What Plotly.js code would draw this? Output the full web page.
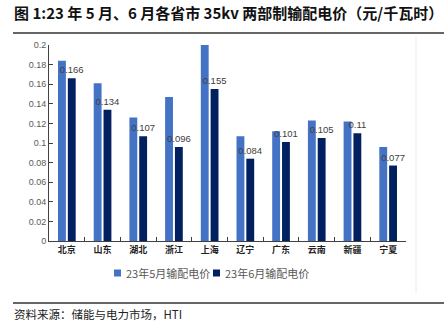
<!DOCTYPE html>
<html><head><meta charset="utf-8">
<script src="https://cdn.plot.ly/plotly-3.0.1.min.js"></script>
<style>html,body{margin:0;padding:0;background:#fff}#c{width:444px;height:328px}</style>
</head><body><div id="c"></div>
<script>
const provinces = ['北京','山东','湖北','浙江','上海','辽宁','广东','云南','新疆','宁夏'];
const mayPrice = [0.184,0.161,0.126,0.147,0.200,0.107,0.112,0.123,0.122,0.096];
const junPrice = [0.166,0.134,0.107,0.096,0.155,0.084,0.101,0.105,0.110,0.077];
const seriesNames = ['23年5月输配电价','23年6月输配电价'];
const seriesColors = ['#4472C4','#002060'];
const yTicks = [0,0.02,0.04,0.06,0.08,0.1,0.12,0.14,0.16,0.18,0.2];

const L=49,R=406,T=45,B=241,W=444,H=328;
const px = x => (x-L)/(R-L);
const py = y => (B-y)/(B-T);
const cjk = '"Noto Sans CJK SC", sans-serif';

const traces = [
  {type:'bar', name:seriesNames[0], x:provinces, y:mayPrice, marker:{color:seriesColors[0]}, hoverinfo:'none'},
  {type:'bar', name:seriesNames[1], x:provinces, y:junPrice, marker:{color:seriesColors[1]},
   text:junPrice.map(String), textposition:'outside', cliponaxis:false, constraintext:'none',
   textfont:{family:'Liberation Sans, Arial, sans-serif', size:9.5, color:'#404040'}, hoverinfo:'none'}
];

// legend drawn as swatches + labels (positions only)
const legendX = [114, 213];
const legendY = 273;
const legendShapes = seriesNames.map((n,i)=>({type:'rect', xref:'paper', yref:'paper',
  x0:px(legendX[i]), x1:px(legendX[i]+7), y0:py(legendY-3.5), y1:py(legendY+3.5),
  fillcolor:seriesColors[i], line:{width:0}}));
const legendLabels = seriesNames.map((n,i)=>({xref:'paper', yref:'paper', x:px(legendX[i]+10), y:py(legendY),
  xanchor:'left', yanchor:'middle', showarrow:false, text:n, font:{family:cjk, size:11, color:'#595959'}}));

const layout = {
  width:W, height:H, margin:{l:L, r:W-R, t:T, b:H-B},
  paper_bgcolor:'#fff', plot_bgcolor:'#fff',
  barmode:'group', bargap:0.45, bargroupgap:0.2,
  showlegend:false,
  xaxis:{type:'category', showline:true, linecolor:'#404040', linewidth:1,
    ticks:'inside', ticklen:4, tickcolor:'#404040', tickson:'boundaries',
    tickfont:{family:cjk, size:9, color:'#222', weight:'bold'}, showgrid:false, fixedrange:true},
  yaxis:{range:[0,0.2], tickvals:yTicks, ticktext:yTicks.map(String), showline:true, linecolor:'#404040', linewidth:1,
    ticks:'inside', ticklen:4, tickcolor:'#404040', showgrid:false, zeroline:false,
    tickfont:{family:'Liberation Sans, Arial, sans-serif', size:9, color:'#595959'}, fixedrange:true},
  annotations:[
    {xref:'paper', yref:'paper', x:px(12), y:py(12), xanchor:'left', yanchor:'middle', showarrow:false,
     text:'<b>图 1:23 年 5 月、6 月各省市 35kv 两部制输配电价（元/千瓦时）</b>',
     font:{family:cjk, size:15, color:'#111'}},
    {xref:'paper', yref:'paper', x:px(12), y:py(314), xanchor:'left', yanchor:'middle', showarrow:false,
     text:'资料来源：储能与电力市场，HTI', font:{family:cjk, size:11.5, color:'#222'}},
    ...legendLabels
  ],
  shapes:[
    {type:'line', xref:'paper', yref:'paper', x0:px(13), x1:px(444), y0:py(33), y1:py(33), line:{color:'#333', width:1.5}},
    {type:'line', xref:'paper', yref:'paper', x0:px(13), x1:px(444), y0:py(303), y1:py(303), line:{color:'#333', width:1.5}},
    {type:'line', xref:'paper', yref:'paper', x0:px(416), x1:px(416), y0:py(36), y1:py(293), line:{color:'#ececec', width:1}},
    ...legendShapes
  ]
};
Plotly.newPlot('c', traces, layout, {staticPlot:true, displayModeBar:false});
</script></body></html>
